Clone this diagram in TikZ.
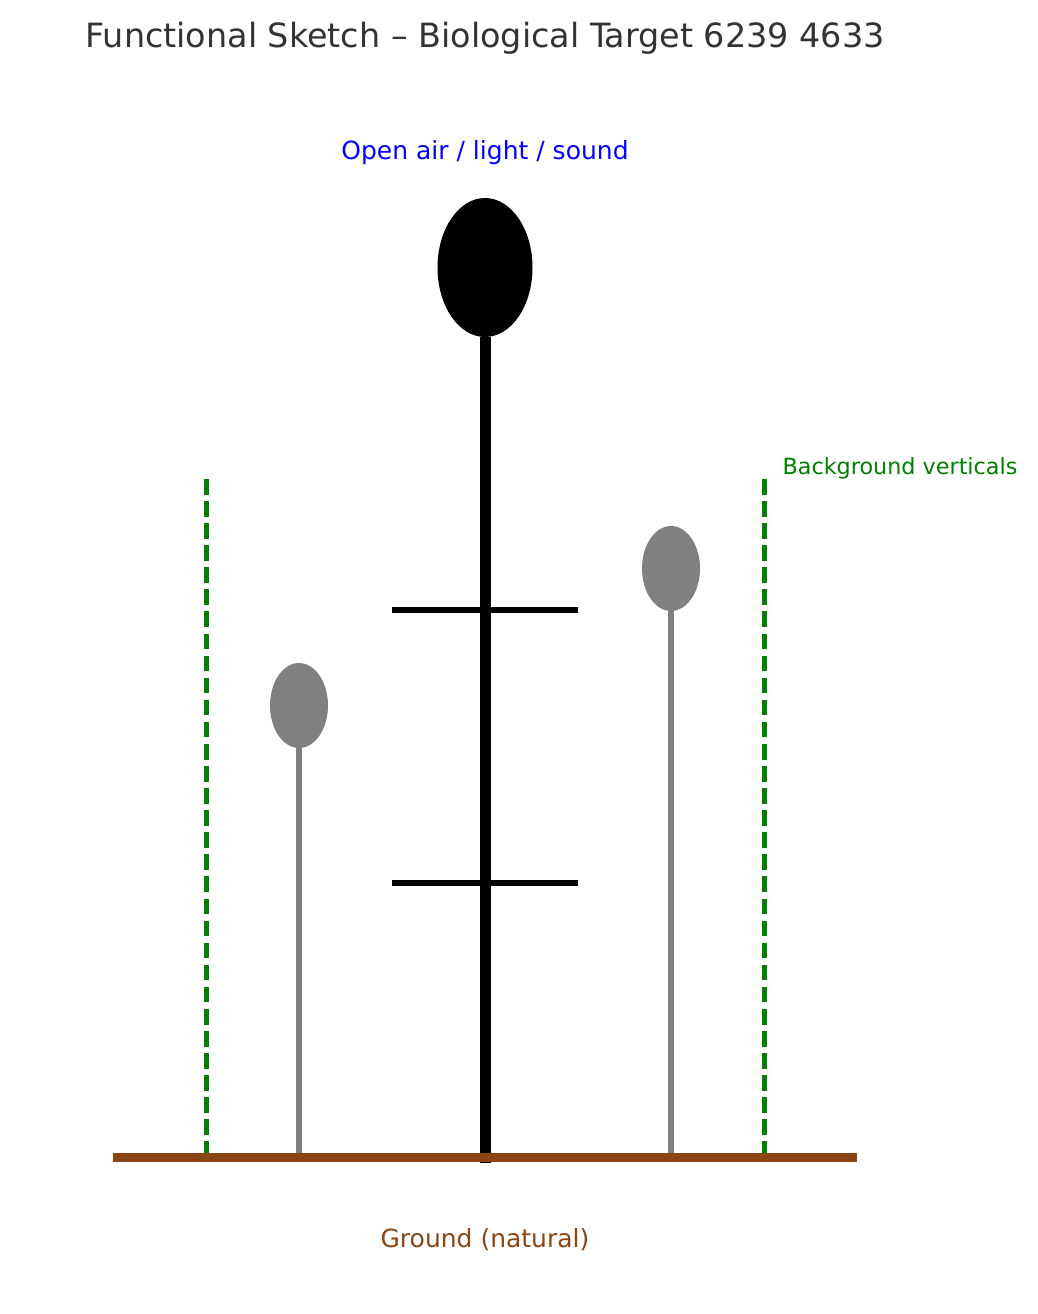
\documentclass[tikz,border=0pt]{standalone}
\usepackage{fontspec}
\setmainfont{DejaVu Sans}
\usepackage{xcolor}
\definecolor{soil}{HTML}{8B4513}
\definecolor{labelgreen}{HTML}{008000}
\definecolor{titlegray}{HTML}{333333}
\usetikzlibrary{shapes.geometric}
\tikzset{
  head/.style={ellipse, inner sep=0pt, minimum width=#1},
  stem/.style={line width=6.7pt, draw=gray},
  vertical/.style={line width=5pt, draw=labelgreen, dash pattern=on 15.6pt off 6.48pt},
}
\begin{document}
\begin{tikzpicture}[x=1pt,y=-1pt]
\useasboundingbox (0,0) rectangle (1037,1314);
\node[text=titlegray, font=\fontsize{33.4}{38}\selectfont] (title) at (485,38) {Functional Sketch – Biological Target 6239 4633};
\node[text=blue, font=\fontsize{25}{30}\selectfont] (sky) at (485,153) {Open air / light / sound};
\node[text=labelgreen, font=\fontsize{22.3}{26}\selectfont, anchor=west] (bg) at (779,468.5) {Background verticals};
\node[text=soil, font=\fontsize{25}{30}\selectfont] (groundlabel) at (485,1240) {Ground (natural)};
% background verticals
\coordinate (gl) at (206,1157);
\coordinate (gr) at (764,1157);
\coordinate (tl) at (206,479);
\coordinate (tr) at (764,479);
\draw[vertical] (gl) -- (tl);
\draw[vertical] (gr) -- (tr);
% side stems
\node[head=58pt, minimum height=85pt, fill=gray] (lefthead) at (299,705.5) {};
\node[head=58pt, minimum height=85pt, fill=gray] (righthead) at (671,568.5) {};
\coordinate (ls) at (299,1157);
\coordinate (rs) at (671,1157);
\draw[stem] (ls) -- (lefthead.south);
\draw[stem] (rs) -- (righthead.south);
% main stem
\node[head=95pt, minimum height=139pt, fill=black] (mainhead) at (485,267.5) {};
\coordinate (ms) at (485,1163);
\draw[line width=11pt] (ms) -- (mainhead.south);
\coordinate (a1) at (392,610);
\coordinate (a2) at (578,610);
\coordinate (b1) at (392,883);
\coordinate (b2) at (578,883);
\draw[line width=6.5pt] (a1) -- (a2);
\draw[line width=6.5pt] (b1) -- (b2);
% ground
\coordinate (g1) at (113,1157);
\coordinate (g2) at (857,1157);
\draw[line width=9pt, soil] (g1) -- (g2);
\end{tikzpicture}
\end{document}
